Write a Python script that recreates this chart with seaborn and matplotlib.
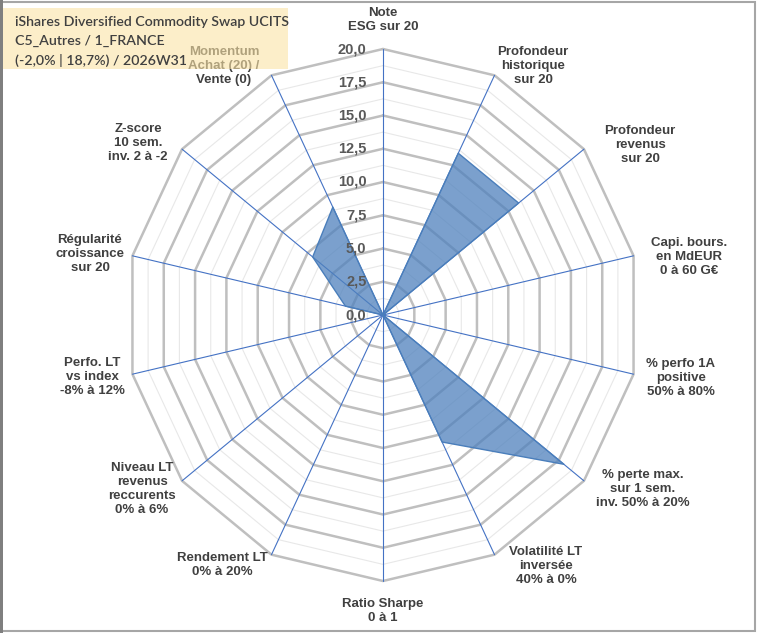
import numpy as np
import pandas as pd
import matplotlib.pyplot as plt
import seaborn as sns
from matplotlib.patches import Rectangle

# ------------------------------------------
# Data
# ------------------------------------------
axis_labels = [
    "Note\nESG sur 20",
    "Profondeur\nhistorique\nsur 20",
    "Profondeur\nrevenus\nsur 20",
    "Capi. bours.\nen MdEUR\n0 à 60 G€",
    "% perfo 1A\npositive\n50% à 80%",
    "% perte max.\nsur 1 sem.\ninv. 50% à 20%",
    "Volatilité LT\ninversée\n40% à 0%",
    "Ratio Sharpe\n0 à 1",
    "Rendement LT\n0% à 20%",
    "Niveau LT\nrevenus\nreccurents\n0% à 6%",
    "Perfo. LT\nvs index\n-8% à 12%",
    "Régularité\ncroissance\nsur 20",
    "Z-score\n10 sem.\ninv. 2 à -2",
    "Momentum\nAchat (20) /\nVente (0)",
]
scores = [0, 13.5, 13.5, 0, 0, 18.0, 10.6, 0, 0, 0, 0, 3.0, 7.0, 9.0]
ring_ticks = [0, 2.5, 5, 7.5, 10, 12.5, 15, 17.5, 20]
tick_labels = ["0,0", "2,5", "5,0", "7,5", "10,0", "12,5", "15,0", "17,5", "20,0"]
title_lines = ["iShares Diversified Commodity Swap UCITS",
               "C5_Autres / 1_FRANCE",
               "(-2,0% | 18,7%) / 2026W31"]

# label centres in pixels (layout only)
label_pos = [(383, 20), (533, 66), (640, 145), (689, 257), (681, 378),
             (643, 489), (546, 566), (383, 611), (222, 565), (142, 489),
             (92, 377), (90, 254), (138, 143), (224, 66)]

W, H = 760, 633
cx, cy = 383, 315
sx, sy = 12.85, 13.3

sns.set_theme(style="white")
plt.rcParams['font.family'] = ['Liberation Sans', 'DejaVu Sans']

fig = plt.figure(figsize=(W / 100, H / 100), dpi=100)
ax = fig.add_axes([0, 0, 1, 1])
ax.set_xlim(-cx / sx, (W - cx) / sx)
ax.set_ylim(-(H - cy) / sy, cy / sy)

n = len(scores)
theta = np.arange(n) * 2 * np.pi / n
theta_c = np.append(theta, theta[0])

# grid rings (minor + major)
minor = np.arange(0, 20.01, 1.25)
for r in minor:
    if r in ring_ticks:
        continue
    ax.plot(r * np.sin(theta_c), r * np.cos(theta_c), color="#e8e8e8", lw=0.8, zorder=1)
for r in ring_ticks[1:]:
    ax.plot(r * np.sin(theta_c), r * np.cos(theta_c), color="#bfbfbf", lw=1.8, zorder=2)

# spokes
for t in theta:
    ax.plot([0, 20 * np.sin(t)], [0, 20 * np.cos(t)], color="#4472c4", lw=0.8, zorder=3)

# series
vals = np.append(scores, scores[0])
df = pd.DataFrame({"x": vals * np.sin(theta_c), "y": vals * np.cos(theta_c)})
ax.fill(df["x"], df["y"], color="#4f81bd", alpha=0.75, zorder=4, lw=0)
sns.lineplot(data=df, x="x", y="y", sort=False, estimator=None, ax=ax,
             color="#4a7ebb", lw=1.0, zorder=5)
ax.axis("off")

# radial tick labels
for r, lab in zip(ring_ticks, tick_labels):
    ax.text(-16.5 / sx, r, lab, ha="right", va="center", fontsize=10.5,
            fontweight="bold", color="#595959", zorder=6)

# axis labels
for (px, py), lab in zip(label_pos, axis_labels):
    fig.text(px / W, 1 - py / H, lab, ha="center", va="center", fontsize=9.5,
             fontweight="bold", color="#404040", linespacing=1.22,
             multialignment="center", zorder=6)

# title box (semi-opaque, sits over the momentum label)
fig.patches.append(Rectangle((0 / W, 1 - 69 / H), 288 / W, 61 / H,
                             transform=fig.transFigure, facecolor="#fbe3a5",
                             alpha=0.6, edgecolor="none", zorder=10))
for i, line in enumerate(title_lines):
    fig.text(15 / W, 1 - (22 + 19 * i) / H, line, ha="left", va="center",
             fontsize=10.2, fontweight="semibold", color="#404040",
             family=["Lato", "DejaVu Sans"], zorder=11)

# chart border
fig.patches.append(Rectangle((1 / W, 2 / H), 754 / W, 629 / H, transform=fig.transFigure,
                             facecolor="none", edgecolor="#a6a6a6", lw=1.5, zorder=12))
fig.patches.append(Rectangle((0, 0), 3 / W, 1, transform=fig.transFigure,
                             facecolor="#7f7f7f", edgecolor="none", zorder=12))

fig.savefig("out.png", dpi=100)
